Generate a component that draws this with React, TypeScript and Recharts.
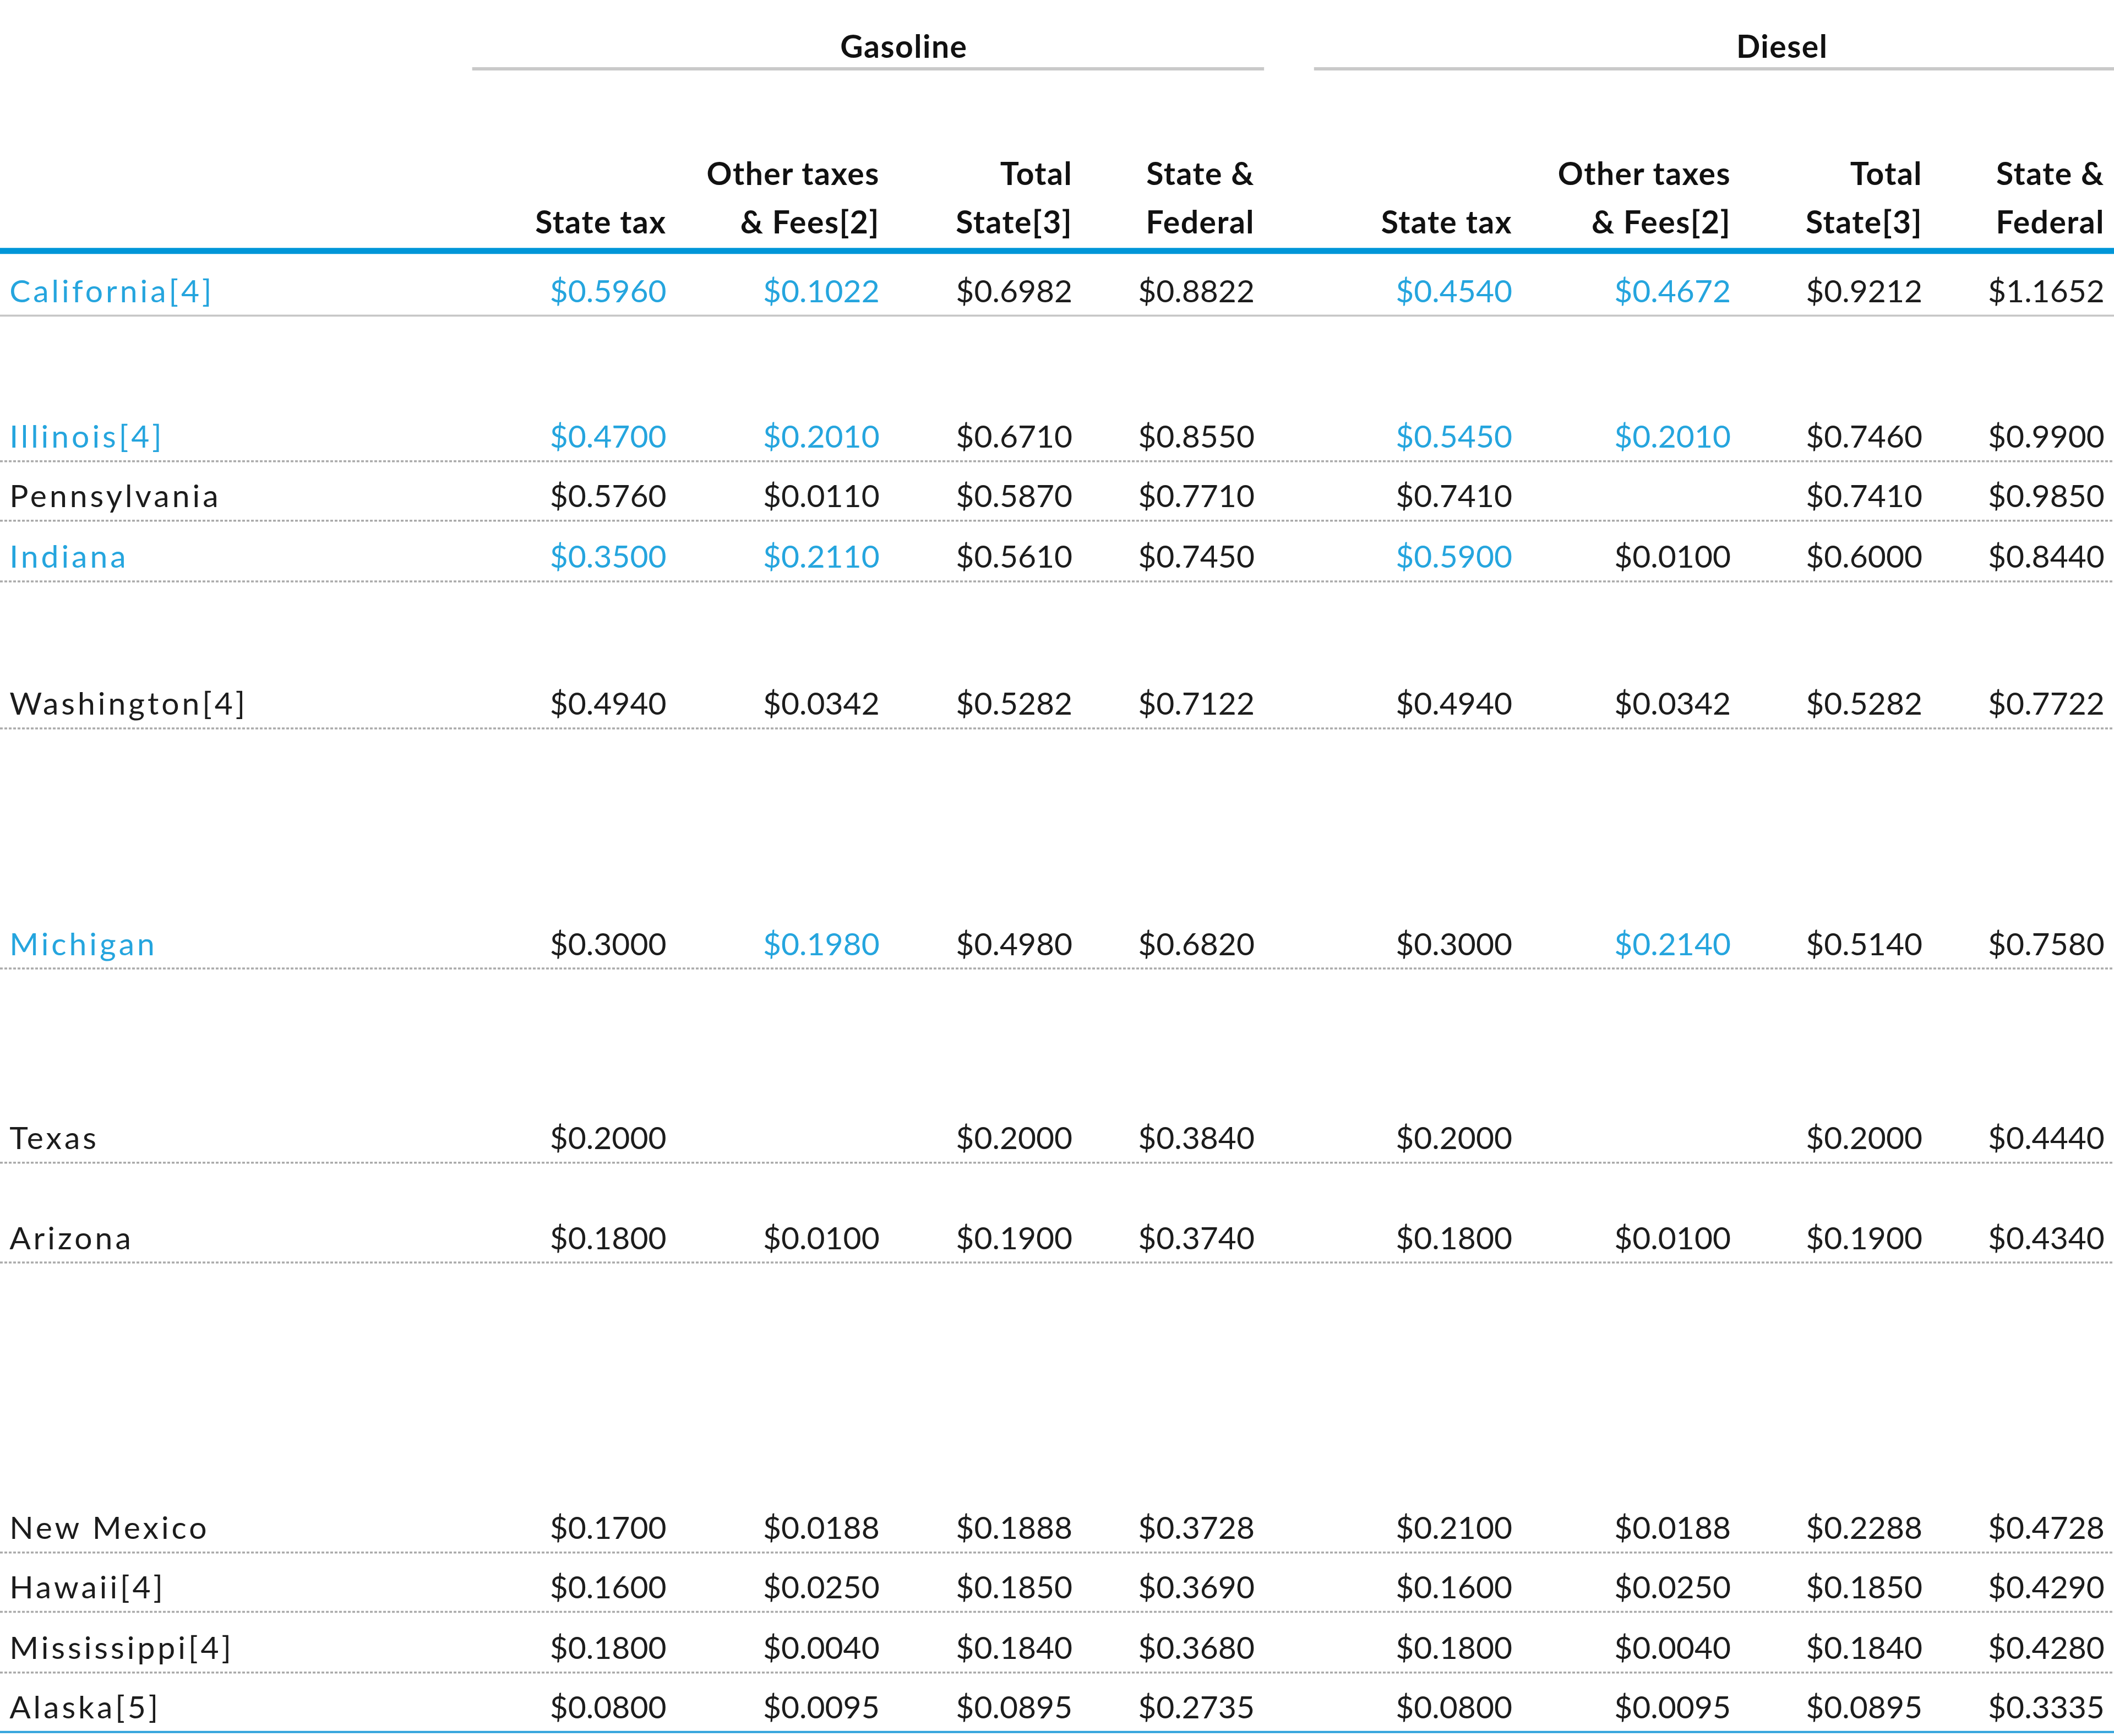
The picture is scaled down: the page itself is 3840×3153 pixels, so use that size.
import { ScatterChart, Scatter, XAxis, YAxis, ReferenceLine } from "recharts";

document.body.style.margin = "0";

const states = [
  "California[4]", "Illinois[4]", "Pennsylvania", "Indiana", "Washington[4]", "Michigan",
  "Texas", "Arizona", "New Mexico", "Hawaii[4]", "Mississippi[4]", "Alaska[5]",
];

const gasStateTax = [0.596, 0.47, 0.576, 0.35, 0.494, 0.3, 0.2, 0.18, 0.17, 0.16, 0.18, 0.08];
const gasOther = [0.1022, 0.201, 0.011, 0.211, 0.0342, 0.198, null, 0.01, 0.0188, 0.025, 0.004, 0.0095];
const gasTotal = [0.6982, 0.671, 0.587, 0.561, 0.5282, 0.498, 0.2, 0.19, 0.1888, 0.185, 0.184, 0.0895];
const gasStateFed = [0.8822, 0.855, 0.771, 0.745, 0.7122, 0.682, 0.384, 0.374, 0.3728, 0.369, 0.368, 0.2735];

const dslStateTax = [0.454, 0.545, 0.741, 0.59, 0.494, 0.3, 0.2, 0.18, 0.21, 0.16, 0.18, 0.08];
const dslOther = [0.4672, 0.201, null, 0.01, 0.0342, 0.214, null, 0.01, 0.0188, 0.025, 0.004, 0.0095];
const dslTotal = [0.9212, 0.746, 0.741, 0.6, 0.5282, 0.514, 0.2, 0.19, 0.2288, 0.185, 0.184, 0.0895];
const dslStateFed = [1.1652, 0.99, 0.985, 0.844, 0.7722, 0.758, 0.444, 0.434, 0.4728, 0.429, 0.428, 0.3335];

// cells shown in the highlight colour, per state
const highlighted: string[][] = [
  ["name", "gasState", "gasOther", "dslState", "dslOther"],
  ["name", "gasState", "gasOther", "dslState", "dslOther"],
  [],
  ["name", "gasState", "gasOther", "dslState"],
  [],
  ["name", "gasOther", "dslOther"],
  [], [], [], [], [], [],
];

const groupTitles = ["Gasoline", "Diesel"];
const columnHeaders = [
  ["", "State tax"],
  ["Other taxes", "& Fees[2]"],
  ["Total", "State[3]"],
  ["State &", "Federal"],
];

// ---- layout, in grid units (the chart maps them through its axes) ----
const W = 3840;
const H = 3153;
const COL_WIDTHS = [350, 151, 158, 143, 135, 37, 154, 162, 142, 135];
const VALUE_COLS = [1, 2, 3, 4, 6, 7, 8, 9];
const VALUE_KEYS = ["gasState", "gasOther", "gasTotal", "gasFed", "dslState", "dslOther", "dslTotal", "dslFed"];
const ROW_HEIGHTS = [48, 108, 44, 45, 109, 178, 144, 74, 215, 44, 45, 44];
const TITLE_LINE_Y = 51;
const HEADER_BOTTOM = 186;
const GRID_H = 1287;
const PAD = 7;
const TITLE_X = [670, 1321];

const BLUE_TEXT = "#25A5DE";
const DARK = "#1c1c1c";
const FONT = "Lato, 'Open Sans', sans-serif";

const colRight: number[] = [];
COL_WIDTHS.reduce((acc, w, i) => ((colRight[i] = acc + w), acc + w), 0);
const GRID_W = colRight[colRight.length - 1];

const rowBottom: number[] = [];
ROW_HEIGHTS.reduce((acc, h, i) => ((rowBottom[i] = acc + h), acc + h), HEADER_BOTTOM);

const valueSeries = [gasStateTax, gasOther, gasTotal, gasStateFed, dslStateTax, dslOther, dslTotal, dslStateFed];
const fmt = (v: number) => `$${v.toFixed(4)}`;

const bodyCells: any[] = [];
states.forEach((s, r) => {
  const y = rowBottom[r] - 10;
  bodyCells.push({
    x: PAD, y, text: s, anchor: "start", spacing: 5,
    color: highlighted[r].includes("name") ? BLUE_TEXT : DARK,
  });
  valueSeries.forEach((series, c) => {
    const v = series[r];
    if (v == null) return;
    bodyCells.push({
      x: colRight[VALUE_COLS[c]] - PAD, y, text: fmt(v), anchor: "end", spacing: 0,
      color: highlighted[r].includes(VALUE_KEYS[c]) ? BLUE_TEXT : DARK,
    });
  });
});

const headerCells: any[] = [];
VALUE_COLS.forEach((col, c) => {
  const [l1, l2] = columnHeaders[c % 4];
  if (l1) headerCells.push({ x: colRight[col] - PAD, y: HEADER_BOTTOM - 49, text: l1, anchor: "end" });
  headerCells.push({ x: colRight[col] - PAD, y: HEADER_BOTTOM - 13, text: l2, anchor: "end" });
});
groupTitles.forEach((t, i) => {
  headerCells.push({ x: TITLE_X[i], y: TITLE_LINE_Y - 8, text: t, anchor: "middle" });
});

function CellText(props: any) {
  const { cx, cy, payload } = props;
  if (cx == null || cy == null) return null;
  return (
    <text
      x={cx}
      y={cy}
      textAnchor={payload.anchor}
      fill={payload.color}
      fontFamily={FONT}
      fontSize={57}
      letterSpacing={payload.spacing}
    >
      {payload.text}
    </text>
  );
}

function HeaderText(props: any) {
  const { cx, cy, payload } = props;
  if (cx == null || cy == null) return null;
  return (
    <text
      x={cx}
      y={cy}
      textAnchor={payload.anchor}
      fill="#111"
      fontFamily={FONT}
      fontSize={57}
      fontWeight={700}
      letterSpacing={1.5}
    >
      {payload.text}
    </text>
  );
}

export default function App() {
  return (
    <div style={{ width: W, height: H, background: "#fff" }}>
      <ScatterChart width={W} height={H} margin={{ top: 0, right: 0, bottom: 0, left: 0 }}>
        <XAxis type="number" dataKey="x" domain={[0, GRID_W]} hide allowDataOverflow />
        <YAxis type="number" dataKey="y" domain={[0, GRID_H]} reversed hide allowDataOverflow />

        {/* group title rules */}
        <ReferenceLine
          segment={[{ x: COL_WIDTHS[0], y: TITLE_LINE_Y }, { x: colRight[4], y: TITLE_LINE_Y }]}
          stroke="#c9c9c9"
          strokeWidth={6}
          ifOverflow="visible"
        />
        <ReferenceLine
          segment={[{ x: colRight[5], y: TITLE_LINE_Y }, { x: GRID_W, y: TITLE_LINE_Y }]}
          stroke="#c9c9c9"
          strokeWidth={6}
          ifOverflow="visible"
        />

        {/* row rules */}
        {rowBottom.map((yb, i) => {
          const first = i === 0;
          const last = i === rowBottom.length - 1;
          return (
            <ReferenceLine
              key={`rule-${i}`}
              y={yb}
              stroke={last ? "#2fa3dc" : first ? "#c6c6c6" : "#ababab"}
              strokeWidth={last ? 4 : 3.5}
              strokeDasharray={first || last ? undefined : "5 3"}
              ifOverflow="visible"
            />
          );
        })}

        {/* header rule */}
        <ReferenceLine y={HEADER_BOTTOM} stroke="#0096d8" strokeWidth={11} ifOverflow="visible" />

        <Scatter data={headerCells} shape={HeaderText} isAnimationActive={false} />
        <Scatter data={bodyCells} shape={CellText} isAnimationActive={false} />
      </ScatterChart>
    </div>
  );
}
